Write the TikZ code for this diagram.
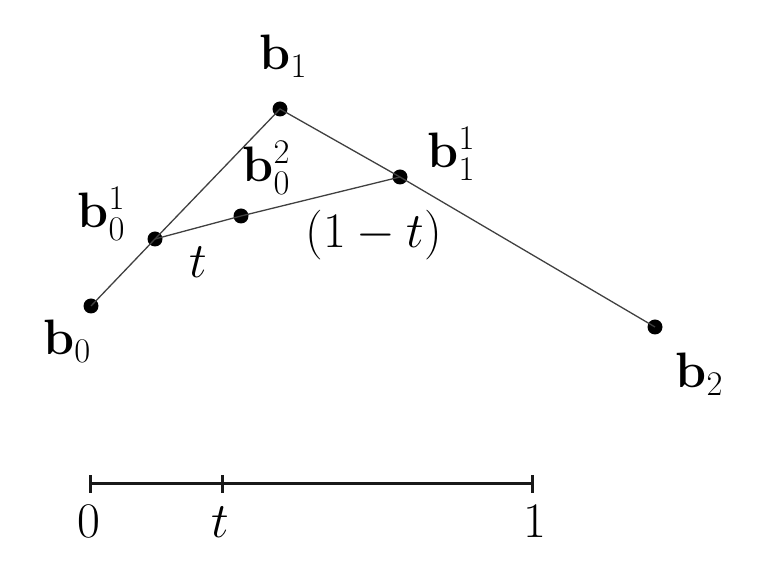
\documentclass[tikz,border=0pt]{standalone}
\DeclareMathSizes{23.5}{23.5}{17}{12}
\tikzset{
  dot/.style={circle,fill=black,inner sep=0pt,minimum size=7.5pt},
  seg/.style={draw=black!75,line width=0.65pt},
  axis/.style={draw=black!90,line width=1.5pt},
  lab/.style={anchor=base west,inner sep=0pt,font=\fontsize{23.5}{28}\selectfont},
  numlab/.style={anchor=base,inner sep=0pt,font=\fontsize{23.5}{28}\selectfont}
}
\begin{document}
\begin{tikzpicture}[x=0.5pt,y=-0.5pt]
\useasboundingbox (0,0) rectangle (757,572);
% control points
\node[dot] (b0) at (91,306) {};
\node[dot] (b1) at (280,109) {};
\node[dot] (b2) at (655,327) {};
\node[dot] (b01) at (155,239) {};
\node[dot] (b11) at (400,177) {};
\node[dot] (b02) at (241,216) {};
% segments
\draw[seg] (b0.center) -- (b01.center) -- (b1.center) -- (b11.center) -- (b2.center);
\draw[seg] (b01.center) -- (b02.center) -- (b11.center);
% labels
\node[lab] (lb0) at (43,355) {$\mathbf{b}_0$};
\node[lab] (lb1) at (259,70) {$\mathbf{b}_1$};
\node[lab] (lb2) at (675,388) {$\mathbf{b}_2$};
\node[lab] (lb01) at (77,228) {$\mathbf{b}_0^1$};
\node[lab] (lb11) at (427,168) {$\mathbf{b}_1^1$};
\node[lab] (lb02) at (242,182) {$\mathbf{b}_0^2$};
\node[lab] (lt) at (189,278) {$t$};
\node[lab] (l1mt) at (305,248) {$(1-t)$};
% number line
\coordinate (n0) at (90,484);
\coordinate (nt) at (222,484);
\coordinate (n1) at (532,484);
\draw[axis] (n0) -- (n1);
\draw[axis] ([yshift=-4.5pt]n0) -- ([yshift=4.5pt]n0);
\draw[axis] ([yshift=-4.5pt]nt) -- ([yshift=4.5pt]nt);
\draw[axis] ([yshift=-4.5pt]n1) -- ([yshift=4.5pt]n1);
\node[numlab] (z0) at (89,538) {$0$};
\node[numlab] (zt) at (220,538) {$t$};
\node[numlab] (z1) at (535,538) {$1$};
\end{tikzpicture}
\end{document}
